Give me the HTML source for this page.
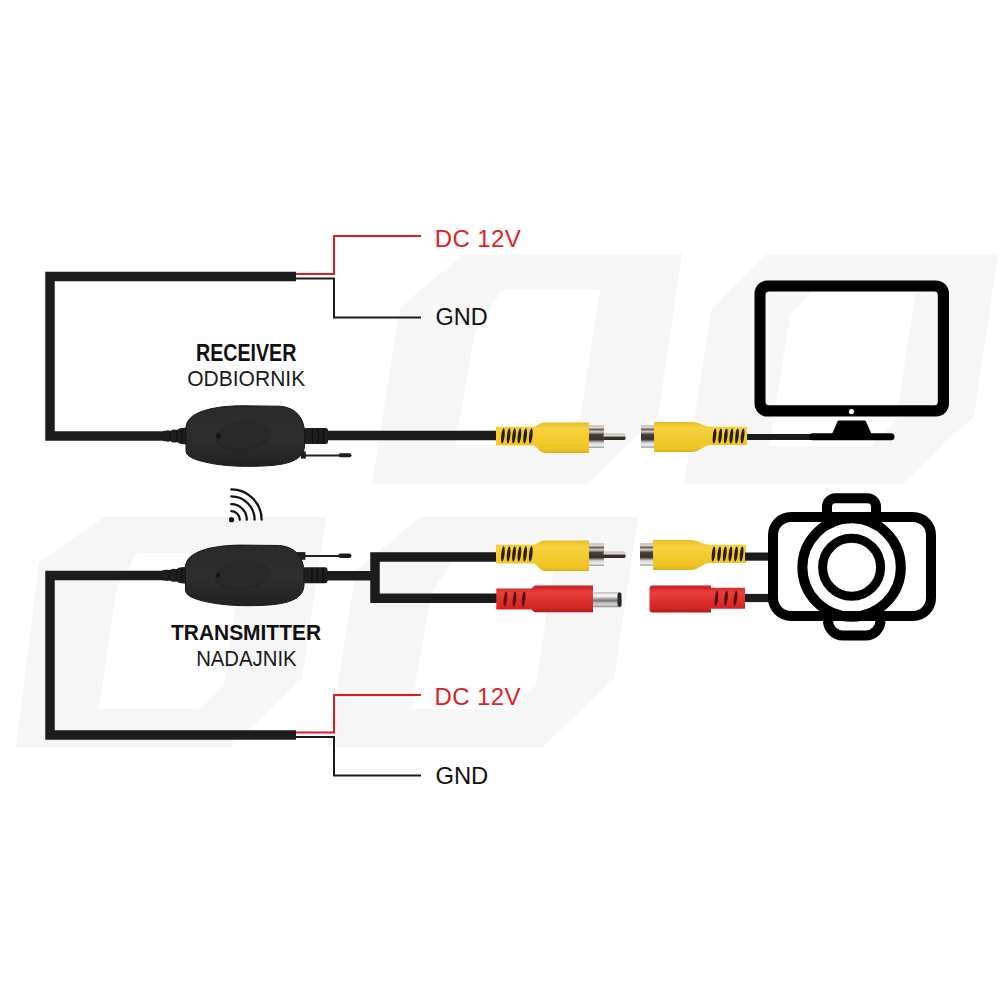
<!DOCTYPE html>
<html><head><meta charset="utf-8">
<style>
html,body{margin:0;padding:0;background:#fff;width:1000px;height:1000px;overflow:hidden}
svg{display:block}
text{font-family:"Liberation Sans",sans-serif}
</style></head>
<body>
<svg width="1000" height="1000" viewBox="0 0 1000 1000">
<defs>
    <linearGradient id="yel" x1="0" y1="0" x2="0" y2="1">
    <stop offset="0" stop-color="#e8bc20"/>
    <stop offset="0.2" stop-color="#f6d23e"/>
    <stop offset="0.55" stop-color="#f2ca2e"/>
    <stop offset="0.88" stop-color="#eec424"/>
    <stop offset="1" stop-color="#dcae18"/>
  </linearGradient>
  <linearGradient id="red" x1="0" y1="0" x2="0" y2="1">
    <stop offset="0" stop-color="#c61e1e"/>
    <stop offset="0.25" stop-color="#e8403c"/>
    <stop offset="0.55" stop-color="#e0302e"/>
    <stop offset="0.85" stop-color="#d22624"/>
    <stop offset="1" stop-color="#b01818"/>
  </linearGradient>
  <linearGradient id="metal" x1="0" y1="0" x2="0" y2="1">
    <stop offset="0" stop-color="#a8a4a0"/>
    <stop offset="0.08" stop-color="#e8e4e0"/>
    <stop offset="0.18" stop-color="#6a605a"/>
    <stop offset="0.28" stop-color="#d8d2cc"/>
    <stop offset="0.4" stop-color="#4a403a"/>
    <stop offset="0.62" stop-color="#3a302c"/>
    <stop offset="0.76" stop-color="#d0ccc8"/>
    <stop offset="0.88" stop-color="#f2f2f2"/>
    <stop offset="1" stop-color="#9a9a9a"/>
  </linearGradient>
  <linearGradient id="pin" x1="0" y1="0" x2="0" y2="1">
    <stop offset="0" stop-color="#b8b4b0"/>
    <stop offset="0.35" stop-color="#e8e4e0"/>
    <stop offset="0.55" stop-color="#40362f"/>
    <stop offset="1" stop-color="#2a2422"/>
  </linearGradient>
  <linearGradient id="barrel" x1="0" y1="0" x2="0" y2="1">
    <stop offset="0" stop-color="#bdbdbd"/>
    <stop offset="0.25" stop-color="#ffffff"/>
    <stop offset="0.55" stop-color="#7a7672"/>
    <stop offset="0.8" stop-color="#d8d8d8"/>
    <stop offset="1" stop-color="#8a8a8a"/>
  </linearGradient>
  <linearGradient id="cab" x1="0" y1="0" x2="0" y2="1">
    <stop offset="0" stop-color="#151515"/>
    <stop offset="0.5" stop-color="#2a2a2a"/>
    <stop offset="1" stop-color="#141414"/>
  </linearGradient>
  <linearGradient id="bodyg" x1="0" y1="0" x2="0" y2="1">
    <stop offset="0" stop-color="#2a2a2a"/>
    <stop offset="0.5" stop-color="#2e2e2e"/>
    <stop offset="1" stop-color="#222222"/>
  </linearGradient>

  <!-- wireless module body (receiver coords) -->

  <!-- male RCA yellow (receiver coords) -->

  <!-- female RCA yellow (receiver coords) -->
</defs>

<!-- watermark -->
<g fill="#f6f6f6">
  <path fill-rule="evenodd" d="M104,517 L326,517 L302,679 L231,747 L16,747 L39,562 Z M138,553 L244,553 L224,683 L198,709 L99,709 L117,586 Z"/>
  <g transform="translate(312,0)"><path fill-rule="evenodd" d="M108,517 L326,517 L302,679 L231,747 L16,747 L44,570 Z M146,553 L244,553 L224,683 L198,709 L99,709 L119,594 Z"/></g>
  <g transform="translate(356,-263)"><path fill-rule="evenodd" d="M108,517 L326,517 L302,679 L231,747 L16,747 L44,570 Z M146,553 L244,553 L224,683 L198,709 L99,709 L119,594 Z"/></g>
  <path fill-rule="evenodd" d="M767,254 L998,254 L974,416 L903,484 L684,484 L712,307 Z M812,290 L916,290 L896,420 L870,446 L769,446 L790,316 Z"/>
</g>

<!-- ================= RECEIVER ================= -->
<g fill="none" stroke="#1c1c1c" stroke-width="9.5" stroke-linejoin="miter">
  <path d="M296,276.6 H50 V436 H165"/>
  <path d="M326,435.5 H498"/>
</g>
<path d="M296,274 H334 V236 H421" fill="none" stroke="#e01b1b" stroke-width="2"/>
<path d="M296,278.5 H334 V317.5 H421" fill="none" stroke="#1a1a1a" stroke-width="2"/>

<text x="434.8" y="246.6" font-size="24" fill="#dd1f26" textLength="86" lengthAdjust="spacing">DC 12V</text>
<text x="435.6" y="324.6" font-size="23.5" fill="#111">GND</text>

<text x="246.2" y="360.5" font-size="23" font-weight="bold" text-anchor="middle" fill="#111" textLength="100.5" lengthAdjust="spacingAndGlyphs">RECEIVER</text>
<text x="246.2" y="386.3" font-size="22.6" text-anchor="middle" fill="#1a1a1a" textLength="118" lengthAdjust="spacingAndGlyphs">ODBIORNIK</text>

  <g>
    <path d="M163,431 L167,430.5 Q169,430 170,431 Q172,429.5 174,429.5 Q176,429.5 177,430 Q179,428 182,428 L187,427.5 V444.5 L182,444 Q179,444 177,442 Q176,442.5 174,442.5 Q172,442.5 170,441 Q169,442 167,441.5 L163,441 Z" fill="#1e1e1e"/>
    <path d="M170,431 V441 M177,430 V442 M182,428.5 V443.5" stroke="#101010" stroke-width="1.1"/>
    <rect x="303" y="428" width="25" height="16" rx="2.5" fill="#1e1e1e"/>
    <path d="M312.5,428.5 V443.5 M318,428.5 V443.5 M323.5,428.5 V443.5" stroke="#0e0e0e" stroke-width="1.3"/>
    <path d="M186,451 L186,427 C187,413 210,406 242,405.8 L280,406.2 C296,407.5 304,418 304.5,432 L304.5,446 C304,458 292,464 270,465.6 C250,467 230,466.5 215,464 C197,461 186,457 186,451 Z" fill="url(#bodyg)" stroke="#161616" stroke-width="1"/>
    <ellipse cx="243" cy="436" rx="27.5" ry="14.5" fill="#252525" transform="rotate(-7 243 436)"/>
    <ellipse cx="244" cy="435" rx="26.5" ry="13.2" fill="#292929" transform="rotate(-7 243 436)"/>
    <circle cx="218.5" cy="436" r="2.4" fill="#151515"/>
  </g>
<g>
  <rect x="300.8" y="451.4" width="5" height="7.2" fill="#1e1e1e"/>
  <path d="M305,455.6 H340" stroke="#1e1e1e" stroke-width="2"/>
  <rect x="338.5" y="453.3" width="13" height="4" rx="2" fill="#1e1e1e"/>
</g>

  <g>
    <path d="M496,426.8 H533 C537,426.8 539,422.5 545,422.5 H589 V453 H545 C539,453 537,445.6 533,445.6 H496 Z" fill="url(#yel)"/>
    <g fill="#2a1c00">
      <ellipse cx="0" cy="0" rx="1.7" ry="7.6" transform="translate(502.9 435.9) skewX(-6)"/><ellipse cx="0" cy="0" rx="1.7" ry="7.6" transform="translate(508.6 435.9) skewX(-6)"/><ellipse cx="0" cy="0" rx="1.7" ry="7.6" transform="translate(514 435.9) skewX(-6)"/><ellipse cx="0" cy="0" rx="1.7" ry="7.6" transform="translate(519.4 435.9) skewX(-6)"/><ellipse cx="0" cy="0" rx="1.7" ry="7.6" transform="translate(525.1 435.9) skewX(-6)"/><ellipse cx="0" cy="0" rx="1.7" ry="7.6" transform="translate(530.8 435.9) skewX(-6)"/>
    </g>
    <rect x="589" y="425.5" width="15" height="22.5" fill="url(#metal)"/>
    <rect x="603.5" y="433.5" width="22" height="6.6" rx="1.5" fill="url(#pin)"/>
  </g>
  <g>
    <rect x="641" y="425.4" width="13" height="22.4" fill="url(#metal)"/>
    <path d="M654,422 H691 C700,422 704,426.8 711,426.8 H747 V445 H711 C704,445 700,452 691,452 H654 Z" fill="url(#yel)"/>
    <g fill="#2a1c00">
      <ellipse cx="0" cy="0" rx="1.7" ry="7.5" transform="translate(714.5 435.9) skewX(-6)"/><ellipse cx="0" cy="0" rx="1.7" ry="7.5" transform="translate(720.2 435.9) skewX(-6)"/><ellipse cx="0" cy="0" rx="1.7" ry="7.5" transform="translate(725.8 435.9) skewX(-6)"/><ellipse cx="0" cy="0" rx="1.7" ry="7.5" transform="translate(731.4 435.9) skewX(-6)"/><ellipse cx="0" cy="0" rx="1.7" ry="7.5" transform="translate(737 435.9) skewX(-6)"/><ellipse cx="0" cy="0" rx="1.7" ry="7.5" transform="translate(742.6 435.9) skewX(-6)"/>
    </g>
  </g>
<path d="M747,437 H812" stroke="#1c1c1c" stroke-width="6.2"/>

<!-- monitor -->
<g fill="#000">
  <path fill-rule="evenodd" d="M767.5,280.5 H936 A13,13 0 0 1 949,293.5 V403.6 A13,13 0 0 1 936,416.6 H767.5 A13,13 0 0 1 754.5,403.6 V293.5 A13,13 0 0 1 767.5,280.5 Z M769,291.5 H934.3 A3.5,3.5 0 0 1 937.8,295 V401.7 A3.5,3.5 0 0 1 934.3,405.2 H769 A3.5,3.5 0 0 1 765.5,401.7 V295 A3.5,3.5 0 0 1 769,291.5 Z"/>
  <circle cx="851.5" cy="411.5" r="2.6" fill="#fff"/>
  <path d="M839,420.5 H864.5 Q865.5,420.5 866,421.5 L871.5,434 H832 L837.5,421.5 Q838,420.5 839,420.5 Z"/>
  <rect x="809" y="433.3" width="85.5" height="7" rx="3.5"/>
</g>

<!-- wifi -->
<g fill="none" stroke="#111" stroke-width="2.3" stroke-linecap="round">
  <circle cx="231.5" cy="519.7" r="2.6" fill="#111" stroke="none"/>
  <path d="M231.3,511.2 A8.5,8.5 0 0 1 239.8,519.7"/>
  <path d="M231.3,504.2 A15.5,15.5 0 0 1 246.8,519.7"/>
  <path d="M231.3,496.4 A23.3,23.3 0 0 1 254.6,519.7"/>
  <path d="M231.3,489.4 A30.3,30.3 0 0 1 261.6,519.7"/>
</g>

<!-- ================= TRANSMITTER ================= -->
<g fill="none" stroke="#1c1c1c" stroke-width="9.5" stroke-linejoin="miter">
  <path d="M296,734.9 H50 V575.6 H165"/>
  <path d="M326,575.7 H375"/>
  <path d="M498,557 H375 V598.3 H498"/>
</g>
<path d="M296,732.5 H334 V695 H421" fill="none" stroke="#e01b1b" stroke-width="2"/>
<path d="M296,737 H334 V775.5 H421" fill="none" stroke="#1a1a1a" stroke-width="2"/>
<text x="434.6" y="705" font-size="24" fill="#dd1f26" textLength="86" lengthAdjust="spacing">DC 12V</text>
<text x="435.4" y="784.3" font-size="23.8" fill="#111">GND</text>

<text x="246" y="639.6" font-size="21.8" font-weight="bold" text-anchor="middle" fill="#111" textLength="150" lengthAdjust="spacingAndGlyphs">TRANSMITTER</text>
<text x="246.4" y="665.8" font-size="21.8" text-anchor="middle" fill="#1a1a1a" textLength="100.5" lengthAdjust="spacingAndGlyphs">NADAJNIK</text>

<g>
  <rect x="295.4" y="552.1" width="10" height="7.7" fill="#1e1e1e"/>
  <path d="M305,556 H340" stroke="#1e1e1e" stroke-width="2"/>
  <rect x="338.3" y="553.6" width="13.2" height="4.4" rx="2.2" fill="#1e1e1e"/>
</g>
<g transform="translate(-0.5,139.3)">  <g>
    <path d="M163,431 L167,430.5 Q169,430 170,431 Q172,429.5 174,429.5 Q176,429.5 177,430 Q179,428 182,428 L187,427.5 V444.5 L182,444 Q179,444 177,442 Q176,442.5 174,442.5 Q172,442.5 170,441 Q169,442 167,441.5 L163,441 Z" fill="#1e1e1e"/>
    <path d="M170,431 V441 M177,430 V442 M182,428.5 V443.5" stroke="#101010" stroke-width="1.1"/>
    <rect x="303" y="428" width="25" height="16" rx="2.5" fill="#1e1e1e"/>
    <path d="M312.5,428.5 V443.5 M318,428.5 V443.5 M323.5,428.5 V443.5" stroke="#0e0e0e" stroke-width="1.3"/>
    <path d="M186,451 L186,427 C187,413 210,406 242,405.8 L280,406.2 C296,407.5 304,418 304.5,432 L304.5,446 C304,458 292,464 270,465.6 C250,467 230,466.5 215,464 C197,461 186,457 186,451 Z" fill="url(#bodyg)" stroke="#161616" stroke-width="1"/>
    <ellipse cx="243" cy="436" rx="27.5" ry="14.5" fill="#252525" transform="rotate(-7 243 436)"/>
    <ellipse cx="244" cy="435" rx="26.5" ry="13.2" fill="#292929" transform="rotate(-7 243 436)"/>
    <circle cx="218.5" cy="436" r="2.4" fill="#151515"/>
  </g></g>

<g transform="translate(0,118)">  <g>
    <path d="M496,426.8 H533 C537,426.8 539,422.5 545,422.5 H589 V453 H545 C539,453 537,445.6 533,445.6 H496 Z" fill="url(#yel)"/>
    <g fill="#2a1c00">
      <ellipse cx="0" cy="0" rx="1.7" ry="7.6" transform="translate(502.9 435.9) skewX(-6)"/><ellipse cx="0" cy="0" rx="1.7" ry="7.6" transform="translate(508.6 435.9) skewX(-6)"/><ellipse cx="0" cy="0" rx="1.7" ry="7.6" transform="translate(514 435.9) skewX(-6)"/><ellipse cx="0" cy="0" rx="1.7" ry="7.6" transform="translate(519.4 435.9) skewX(-6)"/><ellipse cx="0" cy="0" rx="1.7" ry="7.6" transform="translate(525.1 435.9) skewX(-6)"/><ellipse cx="0" cy="0" rx="1.7" ry="7.6" transform="translate(530.8 435.9) skewX(-6)"/>
    </g>
    <rect x="589" y="425.5" width="15" height="22.5" fill="url(#metal)"/>
    <rect x="603.5" y="433.5" width="22" height="6.6" rx="1.5" fill="url(#pin)"/>
  </g></g>
<!-- male DC red -->
<g>
  <path d="M496.3,588.4 H530.6 C533,588.4 533,585.6 536,585.6 H593 V612.2 H536 C533,612.2 533,609.4 530.6,609.4 H496.3 Z" fill="url(#red)"/>
  <g fill="#5a0c0c">
    <ellipse cx="0" cy="0" rx="1.7" ry="7.5" transform="translate(505.4 599) skewX(-6)"/><ellipse cx="0" cy="0" rx="1.7" ry="7.5" transform="translate(514.5 599) skewX(-6)"/><ellipse cx="0" cy="0" rx="1.7" ry="7.5" transform="translate(523.6 599) skewX(-6)"/>
  </g>
  <rect x="593" y="592" width="28.6" height="15.3" rx="1.5" fill="url(#barrel)"/>
  <rect x="617.5" y="592.5" width="4" height="14.3" rx="2" fill="#2a2624"/>
</g>
<g transform="translate(-1,118)">  <g>
    <rect x="641" y="425.4" width="13" height="22.4" fill="url(#metal)"/>
    <path d="M654,422 H691 C700,422 704,426.8 711,426.8 H747 V445 H711 C704,445 700,452 691,452 H654 Z" fill="url(#yel)"/>
    <g fill="#2a1c00">
      <ellipse cx="0" cy="0" rx="1.7" ry="7.5" transform="translate(714.5 435.9) skewX(-6)"/><ellipse cx="0" cy="0" rx="1.7" ry="7.5" transform="translate(720.2 435.9) skewX(-6)"/><ellipse cx="0" cy="0" rx="1.7" ry="7.5" transform="translate(725.8 435.9) skewX(-6)"/><ellipse cx="0" cy="0" rx="1.7" ry="7.5" transform="translate(731.4 435.9) skewX(-6)"/><ellipse cx="0" cy="0" rx="1.7" ry="7.5" transform="translate(737 435.9) skewX(-6)"/><ellipse cx="0" cy="0" rx="1.7" ry="7.5" transform="translate(742.6 435.9) skewX(-6)"/>
    </g>
  </g></g>
<path d="M745,556.6 H772" stroke="#1c1c1c" stroke-width="8.2"/>
<!-- female red -->
<g>
  <path d="M652,585.5 H711 V587.7 H745 V608.7 H711 V612.5 H652 Q649.5,612.5 649.5,609 V589 Q649.5,585.5 652,585.5 Z" fill="url(#red)"/>
  <g fill="#5a0c0c">
    <ellipse cx="0" cy="0" rx="1.7" ry="7.5" transform="translate(716.5 598.2) skewX(-6)"/><ellipse cx="0" cy="0" rx="1.7" ry="7.5" transform="translate(726 598.2) skewX(-6)"/><ellipse cx="0" cy="0" rx="1.7" ry="7.5" transform="translate(735.5 598.2) skewX(-6)"/>
  </g>
</g>
<path d="M745,598 H772" stroke="#1c1c1c" stroke-width="8.2"/>

<!-- camera -->
<g fill="none" stroke="#000" stroke-width="10">
  <rect x="773" y="517" width="158" height="99" rx="18"/>
  <path d="M827,517 V506.5 A8.5,8.5 0 0 1 835.5,498.2 H867.5 A8.5,8.5 0 0 1 876,506.5 V517"/>
  <path d="M828,616 V620 A15,15 0 0 0 843,635.5 H865.5 A15,15 0 0 0 880.5,620 V616"/>
  <circle cx="851.6" cy="567.5" r="49.2"/>
  <circle cx="851.6" cy="567.3" r="29" stroke-width="9"/>
</g>
</svg>
</body></html>
